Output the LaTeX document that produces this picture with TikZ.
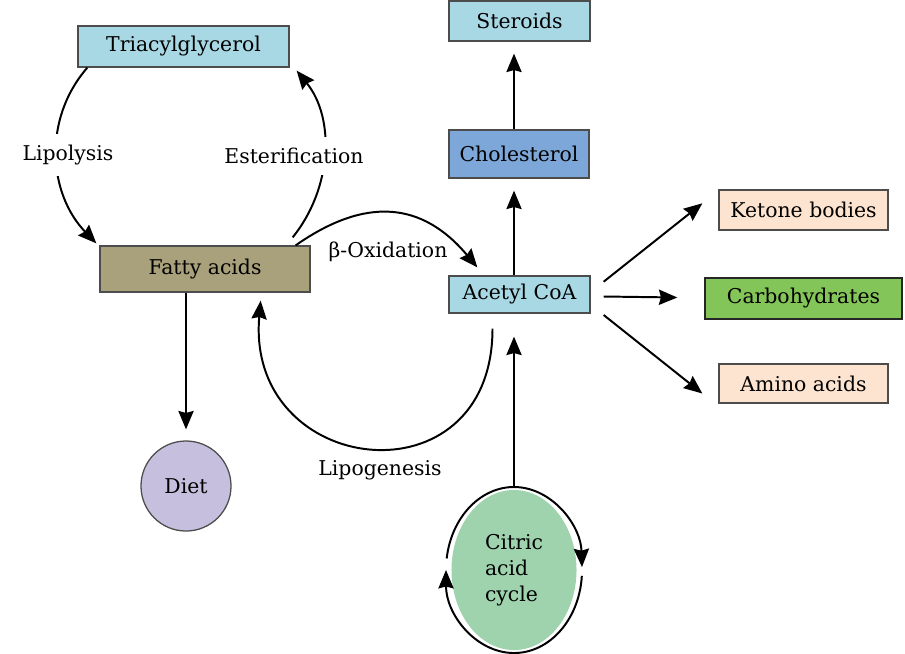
\documentclass[tikz,border=0pt]{standalone}
\usepackage{fontspec}
\setmainfont{DejaVu Serif}
\usetikzlibrary{arrows.meta,shapes.geometric}

\begin{document}
\begin{tikzpicture}[x=0.025cm,y=0.025cm]
  \definecolor{paleblue}{RGB}{168,216,228}
  \definecolor{cholblue}{RGB}{124,167,216}
  \definecolor{fattybg}{RGB}{169,160,124}
  \definecolor{peach}{RGB}{253,228,208}
  \definecolor{carbgreen}{RGB}{132,197,90}
  \definecolor{dietbg}{RGB}{198,192,222}
  \definecolor{cyclebg}{RGB}{158,211,174}
  \tikzstyle{box}=[draw=black!70, line width=0.9pt, align=center, font=\fontsize{14.5}{17}\selectfont, inner sep=2pt]
  \tikzstyle{arr}=[-{Stealth[length=0.46cm,width=0.38cm,inset=0.05cm]}, line width=1.4pt]
  \tikzstyle{lbl}=[font=\fontsize{14.5}{17}\selectfont, inner sep=2pt]

  \useasboundingbox (0,0) rectangle (905,-653);

  % Lipid side, left. Units are pixels of the 905 x 653 sheet.
  \node[box, fill=paleblue, minimum width=5.275cm, minimum height=1.025cm] (tag) at (183.5,-46.5) {Triacylglycerol};
  \node[box, fill=fattybg, minimum width=5.25cm, minimum height=1.15cm] (fatty) at (205,-269) {Fatty acids};
  \node[box, circle, fill=dietbg, minimum size=2.25cm] (diet) at (186,-486) {Diet};

  % Acetyl CoA column, arrows run at x = 514
  \node[box, fill=paleblue, minimum width=3.525cm, minimum height=1.0cm] (steroids) at (519.5,-21) {Steroids};
  \node[box, fill=cholblue, minimum width=3.5cm, minimum height=1.2cm] (chol) at (519,-154) {Cholesterol};
  \node[box, fill=paleblue, minimum width=3.525cm, minimum height=0.925cm] (acetyl) at (519.5,-294.5) {Acetyl CoA};
  \node[ellipse, fill=cyclebg, minimum width=3.125cm, minimum height=4.0cm, align=left, font=\fontsize{14.5}{18.4}\selectfont] (citric) at (514,-570) {Citric\\acid\\cycle};

  % Products on the right
  \node[box, fill=peach, minimum width=4.225cm, minimum height=1.0cm] (ketone) at (803.5,-210) {Ketone bodies};
  \node[box, fill=carbgreen, draw=black!85, minimum width=4.925cm, minimum height=1.025cm] (carb) at (803.5,-298.5) {Carbohydrates};
  \node[box, fill=peach, minimum width=4.225cm, minimum height=0.975cm] (amino) at (803.5,-383.5) {Amino acids};

  % Loop between triacylglycerol and fatty acids
  \draw[arr] ([shift={(10,0)}]tag.south west) to[out=229,in=134] ([shift={(-3,2)}]fatty.north west);
  \draw[arr] ([shift={(-18,8)}]fatty.north east) to[out=51,in=-51,looseness=0.95] ([shift={(7,-3)}]tag.south east);
  \draw[arr] ([shift={(-15,0)}]fatty.north east) to[out=35,in=130,looseness=1.2] ([shift={(29,8)}]acetyl.north west);
  \draw[arr] ([shift={(-27,-15)}]acetyl.south) to[out=-90,in=-95,looseness=1.95] ([shift={(-50,-8)}]fatty.south east);
  \draw[arr, shorten >=0.275cm] (diet.north |- fatty.south) -- (diet.north);

  % Column
  \draw[arr, shorten >=0.575cm] ([shift={(0,3)}]citric.north) -- (citric.north |- acetyl.south);
  \draw[arr, shorten >=0.3cm] (citric.north |- acetyl.north) -- (citric.north |- chol.south);
  \draw[arr, shorten >=0.3cm] (citric.north |- chol.north) -- (citric.north |- steroids.south);

  % Fan out of acetyl CoA
  \draw[arr] ([shift={(13,12.8)}]acetyl.east) -- ([shift={(-16,6.7)}]ketone.west);
  \draw[arr] ([shift={(13,-2)}]acetyl.east) -- ([shift={(-27,1)}]carb.west);
  \draw[arr] ([shift={(13,-20.5)}]acetyl.east) -- ([shift={(-16,-10)}]amino.west);

  % Cycle arrows round the citric acid node
  \draw[arr] ([shift={(172:68 and 83)}]citric.center) arc[start angle=172, end angle=2, x radius=68, y radius=83];
  \draw[arr] ([shift={(-4:68 and 83)}]citric.center) arc[start angle=-4, end angle=-180, x radius=68, y radius=83];

  % Labels last, the white ones cut the loop
  \node[lbl, fill=white, inner ysep=0.28cm] (lipolysis) at (68,-155) {Lipolysis};
  \node[lbl, fill=white, inner ysep=0.28cm] (ester) at (294,-156) {Esterification};
  \node[lbl] (betaox) at (388,-252) {β-Oxidation};
  \node[lbl] (lipogen) at (380,-470) {Lipogenesis};
\end{tikzpicture}
\end{document}
